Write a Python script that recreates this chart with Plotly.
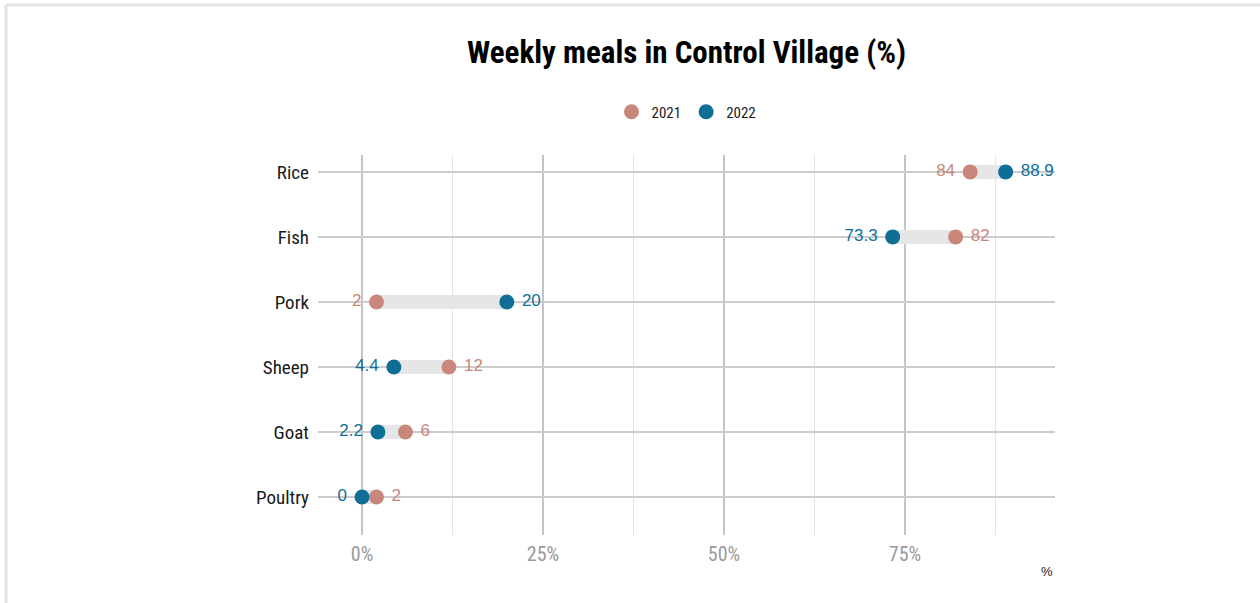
import plotly.graph_objects as go

categories = ["Rice", "Fish", "Pork", "Sheep", "Goat", "Poultry"]
v2021 = [84, 82, 2, 12, 6, 2]
v2022 = [88.9, 73.3, 20, 4.4, 2.2, 0]
tick_vals = [0, 25, 50, 75]
tick_text = ["0%", "25%", "50%", "75%"]

c2021 = "#c8877a"
c2022 = "#0f6e96"
narrow = "Liberation Sans Narrow, Arial Narrow, Roboto Condensed, Liberation Sans, sans-serif"
regular = "Liberation Sans, Arial, sans-serif"

W, H = 1260, 603
ml, mr, mt, mb = 318, 205, 155, 68
pw, ph = W - ml - mr, H - mt - mb

NB = "\u00a0"


def fmt(v):
    return ("%g" % v)


def lab(v, left):
    return fmt(v) + NB if left else NB + fmt(v)


fig = go.Figure()

# connecting gray bars
for cat, a, b in zip(categories, v2021, v2022):
    fig.add_trace(go.Scatter(
        x=[a, b], y=[cat, cat], mode="lines",
        line=dict(color="#e6e6e6", width=14),
        showlegend=False, hoverinfo="skip"))

left2021 = [a < b for a, b in zip(v2021, v2022)]
left2022 = [b < a for a, b in zip(v2021, v2022)]

fig.add_trace(go.Scatter(
    x=v2021, y=categories, mode="markers+text", name="2021",
    marker=dict(color=c2021, size=15),
    text=[lab(v, l) for v, l in zip(v2021, left2021)],
    textposition=["middle left" if l else "middle right" for l in left2021],
    textfont=dict(color=c2021, size=17, family=regular)))
fig.add_trace(go.Scatter(
    x=v2022, y=categories, mode="markers+text", name="2022",
    marker=dict(color=c2022, size=15),
    text=[lab(v, l) for v, l in zip(v2022, left2022)],
    textposition=["middle left" if l else "middle right" for l in left2022],
    textfont=dict(color=c2022, size=17, family=regular)))

x0 = -6.08
x1 = 95.72
fig.update_xaxes(
    range=[x0, x1], tickvals=tick_vals, ticktext=tick_text,
    showgrid=True, gridcolor="#c4c4c4", gridwidth=2,
    minor=dict(tickvals=[12.5, 37.5, 62.5, 87.5], showgrid=True,
               gridcolor="#e3e3e3", gridwidth=1),
    zeroline=False, showline=False, ticks="",
    tickfont=dict(family=narrow, size=20, color="#9a9a9a"),
    ticklabelstandoff=5,
)
fig.update_yaxes(
    type="category", categoryorder="array", categoryarray=categories[::-1],
    range=[-0.585, 5.26],
    showgrid=True, gridcolor="#cccccc", gridwidth=1.5,
    zeroline=False, showline=False, ticks="",
    tickfont=dict(family=narrow, size=19, color="#1a1a1a"),
    ticklabelstandoff=8,
)


def px_x(p):
    return (p - ml) / pw


def px_y(p):
    return (H - mb - p) / ph


fig.update_layout(
    width=W, height=H,
    margin=dict(l=ml, r=mr, t=mt, b=mb),
    paper_bgcolor="white", plot_bgcolor="white",
    title=dict(text="<b>Weekly meals in Control Village (%)</b>",
               x=0.5, xref="paper", xanchor="center",
               y=1 - 52 / H, yanchor="middle",
               font=dict(family=narrow, size=31, color="black")),
    legend=dict(orientation="h", x=0.5, xanchor="center",
                y=px_y(112), yanchor="middle",
                font=dict(family=narrow, size=15, color="#1a1a1a"),
                itemsizing="trace"),
    showlegend=True,
    annotations=[dict(text="%", xref="paper", yref="paper",
                      x=1, xanchor="right", y=px_y(571), yanchor="middle",
                      showarrow=False,
                      font=dict(family=regular, size=13, color="#1a1a1a"))],
    shapes=[
        dict(type="line", xref="paper", yref="paper",
             x0=px_x(6), x1=px_x(1262), y0=px_y(5), y1=px_y(5),
             line=dict(color="#e0e3e3", width=3)),
        dict(type="line", xref="paper", yref="paper",
             x0=px_x(6), x1=px_x(6), y0=px_y(5), y1=px_y(605),
             line=dict(color="#e0e3e3", width=3)),
    ],
)

fig.write_html("out.html",
               config={"displayModeBar": False},
               post_script="document.body.style.margin='0';"
                           "document.body.style.overflow='hidden';")
